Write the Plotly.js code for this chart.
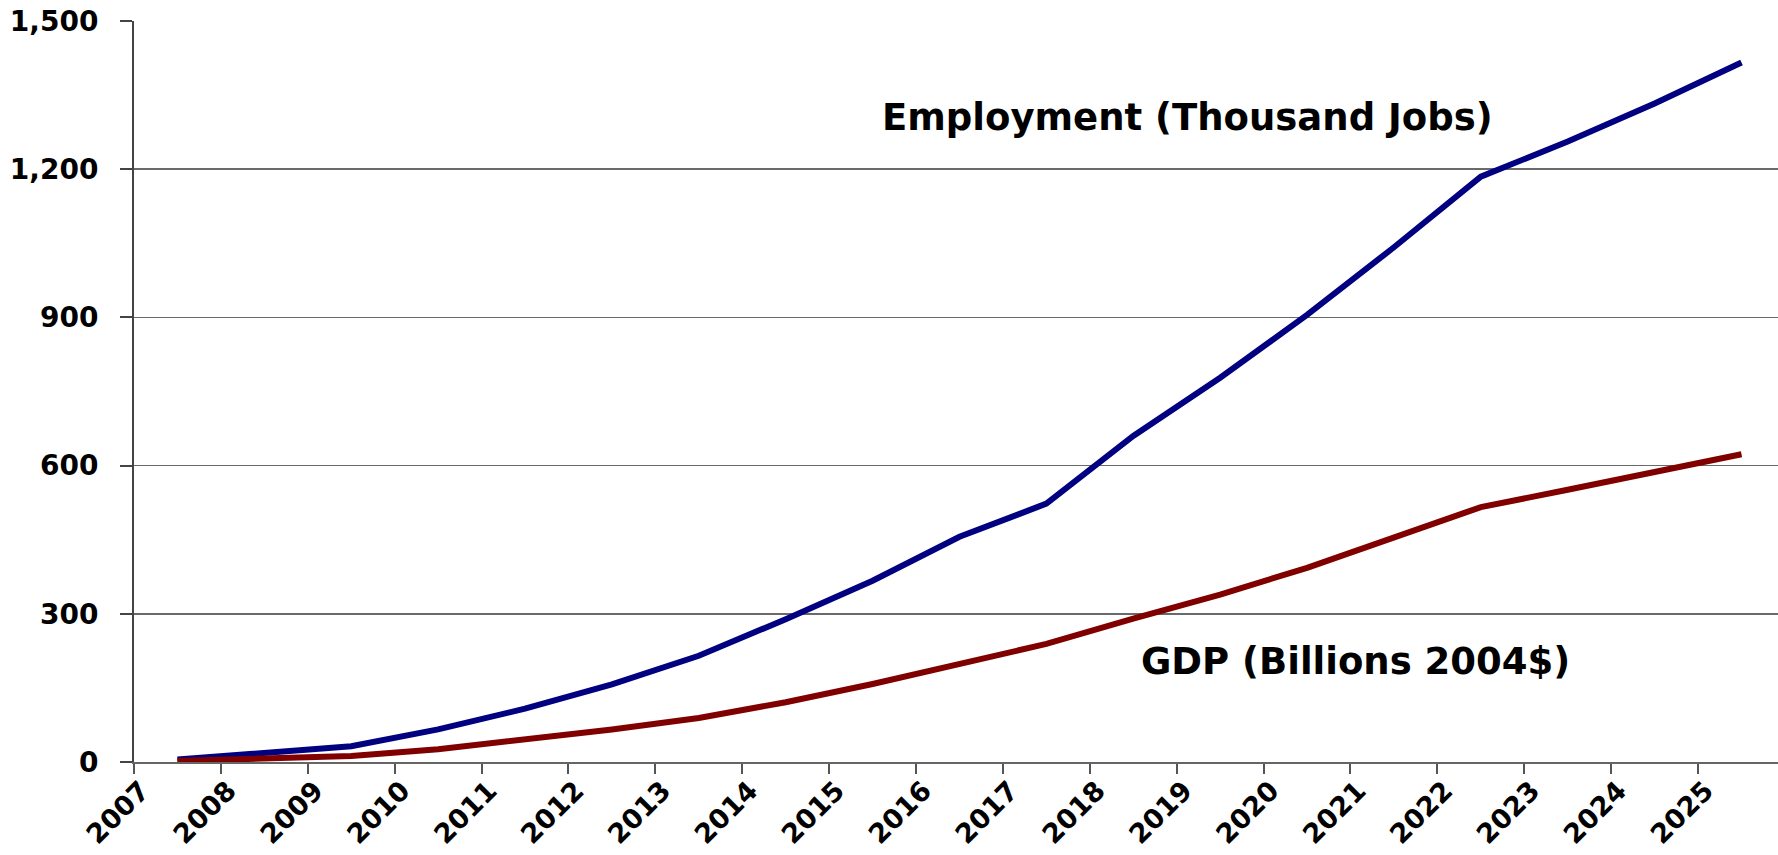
<!DOCTYPE html>
<html>
<head>
<meta charset="utf-8">
<script src="https://cdn.plot.ly/plotly-3.0.1.min.js"></script>
<style>
  html, body { margin: 0; padding: 0; background: #ffffff; }
  #chart { width: 1778px; height: 855px; }
</style>
</head>
<body>
<div id="chart"></div>
<script>
// Category (tick) labels
const years = ["2007","2008","2009","2010","2011","2012","2013","2014","2015","2016",
               "2017","2018","2019","2020","2021","2022","2023","2024","2025"];

// Series values
const employment = [5, 17, 32, 66, 108, 157, 215, 289, 367, 456,
                    523, 660, 778, 905, 1042, 1185, 1256, 1333, 1416];
const gdp = [2, 6, 12, 26, 45, 66, 89, 121, 158, 197,
             239, 290, 339, 393, 453, 516, 551, 587, 623];

const seriesNames = ["Employment (Thousand Jobs)", "GDP (Billions 2004$)"];

const FONT = "DejaVu Sans, Liberation Sans, Arial, sans-serif";

const traces = [
  {
    type: "scatter", mode: "lines", name: seriesNames[0],
    x: years, y: employment,
    line: { color: "#000080", width: 6 }
  },
  {
    type: "scatter", mode: "lines", name: seriesNames[1],
    x: years, y: gdp,
    line: { color: "#800000", width: 6 }
  }
];

const layout = {
  width: 1778, height: 855,
  margin: { l: 134, r: 0, t: 21, b: 93 },
  paper_bgcolor: "#ffffff", plot_bgcolor: "#ffffff",
  showlegend: false,
  font: { family: FONT, color: "#000000" },
  xaxis: {
    type: "category",
    range: [-0.5, 18.42],
    tickson: "boundaries",
    ticks: "outside", ticklen: 10, tickcolor: "#555555", tickwidth: 2,
    tickangle: -45,
    ticklabelshift: -36,
    tickfont: { family: FONT, size: 27, weight: "bold", color: "#000000" },
    showline: true, linecolor: "#666666", linewidth: 2,
    showgrid: false, zeroline: false
  },
  yaxis: {
    range: [0, 1500],
    tickmode: "linear", tick0: 0, dtick: 300,
    tickformat: ",d",
    ticks: "outside", ticklen: 12, tickcolor: "#444444", tickwidth: 2,
    ticklabelstandoff: 16,
    tickfont: { family: FONT, size: 28, weight: "bold", color: "#000000" },
    showline: true, linecolor: "#444444", linewidth: 2,
    showgrid: true, gridcolor: "#6a6a6a", gridwidth: 1.5,
    zeroline: false
  },
  annotations: [
    {
      text: seriesNames[0], xref: "paper", yref: "paper",
      x: 0.641, y: 0.870, xanchor: "center", yanchor: "middle",
      showarrow: false,
      font: { family: FONT, size: 37, weight: "bold", color: "#000000" }
    },
    {
      text: seriesNames[1], xref: "paper", yref: "paper",
      x: 0.743, y: 0.136, xanchor: "center", yanchor: "middle",
      showarrow: false,
      font: { family: FONT, size: 37, weight: "bold", color: "#000000" }
    }
  ]
};

Plotly.newPlot("chart", traces, layout, { displayModeBar: false, staticPlot: true });
</script>
</body>
</html>
